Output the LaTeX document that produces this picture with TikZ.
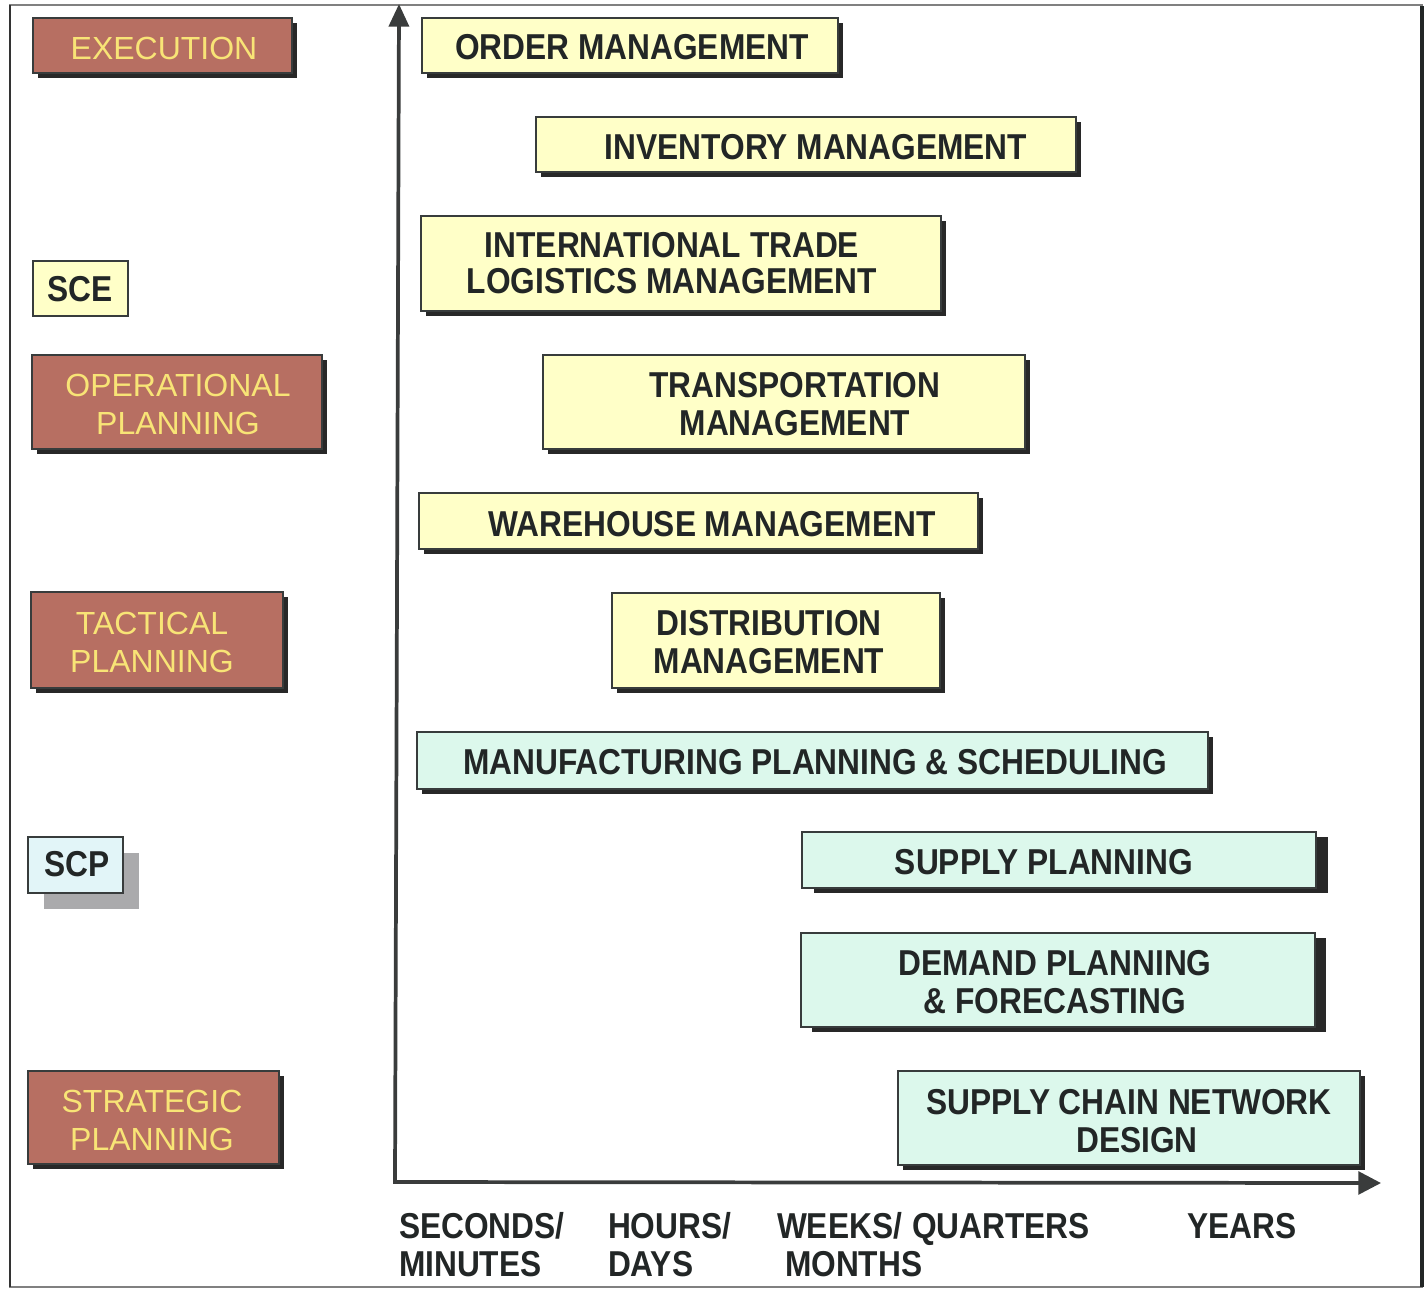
\documentclass[tikz,border=0pt]{standalone}
\usepackage{fontspec}
\setmainfont{Liberation Sans}
\newfontfamily\narrowsans[FakeStretch=0.88]{Liberation Sans}
\usetikzlibrary{arrows.meta,fit,shadows}

\definecolor{tierbrown}{RGB}{183,111,98}
\definecolor{tiergold}{RGB}{248,228,118}
\definecolor{execyellow}{RGB}{255,255,200}
\definecolor{planmint}{RGB}{220,248,236}
\definecolor{scpblue}{RGB}{226,245,248}
\definecolor{ink}{RGB}{34,38,38}
\definecolor{shade}{RGB}{40,40,40}
\definecolor{softshade}{RGB}{170,170,172}
\definecolor{axisdark}{RGB}{58,60,60}

\begin{document}
\begin{tikzpicture}[x=0.75pt,y=-0.75pt,
  every node/.style={inner sep=0pt,outer sep=0pt},
  boxline/.style={draw=ink!90,line width=1pt},
  hardshadow/.style={drop shadow={shadow xshift=#1,shadow yshift=-3.75pt,fill=shade,opacity=1}},
  tier/.style={boxline,fill=tierbrown,hardshadow=3.75pt},
  execbox/.style={boxline,fill=execyellow,hardshadow=3.75pt},
  planbox/.style={boxline,fill=planmint,hardshadow=#1},
  planbox/.default=3.75pt,
  tierlabel/.style={text=tiergold,align=center,font=\fontsize{24}{28.5}\selectfont},
  boxlabel/.style={text=ink,align=center,font=\narrowsans\bfseries\fontsize{27}{28.5}\selectfont},
  axislabel/.style={text=ink,anchor=base west,font=\narrowsans\bfseries\fontsize{27}{28.5}\selectfont},
  axis/.style={draw=axisdark,line width=2.8pt}
]
\useasboundingbox (0,0) rectangle (1428,1290);

% outer frame
\draw[draw=black!50,line width=0.9pt] (10,5) rectangle (1422,1287);
\draw[draw=black!80,line width=1.2pt] (10,5) -- (10,1287);
\draw[draw=ink,line width=3pt] (1422,6) -- (1422,1287);

% planning tiers (left column)
\node[tier,fit={(33,18)(292,73)}] (exec) {};
\node[tierlabel] (exec-t) at (164,48.5) {EXECUTION};
\node[boxline,fill=execyellow,fit={(33,261)(128,316)}] (sce) {};
\node[boxlabel] (sce-t) at (80,289) {SCE};
\node[tier,fit={(32,355)(322,449)}] (oper) {};
\node[tierlabel] (oper-t) at (178,404) {OPERATIONAL\\PLANNING};
\node[tier,fit={(31,592)(283,688)}] (tact) {};
\node[tierlabel] (tact-t) at (152,642) {TACTICAL\\PLANNING};
\node[boxline,fill=scpblue,fit={(28,837)(123,893)},
  drop shadow={shadow xshift=12pt,shadow yshift=-12pt,fill=softshade,opacity=1}] (scp) {};
\node[boxlabel] (scp-t) at (77,864) {SCP};
\node[tier,fit={(28,1071)(279,1164)}] (strat) {};
\node[tierlabel] (strat-t) at (152,1120) {STRATEGIC\\PLANNING};

% axes
\coordinate (origin) at (395,1182);
\coordinate (ytip) at (399,4);
\coordinate (xtip) at (1381,1183);
\draw[axis,-{Triangle[length=17pt,width=15pt]}] (origin) -- (ytip);
\draw[axis,-{Triangle[length=17pt,width=17pt]}] ([xshift=-1.5pt]origin) -- (xtip);

% execution systems
\node[execbox,fit={(422,18)(838,73)}] (order) {};
\node[boxlabel] (order-t) at (632,47) {ORDER MANAGEMENT};
\node[execbox,fit={(536,117)(1076,172)}] (inv) {};
\node[boxlabel] (inv-t) at (816,147) {INVENTORY MANAGEMENT};
\node[execbox,fit={(421,216)(941,311)}] (itl) {};
\node[boxlabel,font=\narrowsans\bfseries\fontsize{27}{26.5}\selectfont] (itl-t) at (672,263) {INTERNATIONAL TRADE\\LOGISTICS MANAGEMENT};
\node[execbox,fit={(543,355)(1025,449)}] (trans) {};
\node[boxlabel] (trans-t) at (795,404) {TRANSPORTATION\\MANAGEMENT};
\node[execbox,fit={(419,493)(978,549)}] (wh) {};
\node[boxlabel] (wh-t) at (712,524) {WAREHOUSE MANAGEMENT};
\node[execbox,fit={(612,593)(940,688)}] (dist) {};
\node[boxlabel] (dist-t) at (769,642) {DISTRIBUTION\\MANAGEMENT};

% planning systems
\node[planbox,fit={(417,732)(1208,789)}] (mfg) {};
\node[boxlabel] (mfg-t) at (815,762) {MANUFACTURING PLANNING \& SCHEDULING};
\node[planbox=9pt,fit={(802,832)(1316,888)}] (supply) {};
\node[boxlabel] (supply-t) at (1044,862) {SUPPLY PLANNING};
\node[planbox=8pt,fit={(801,933)(1315,1027)}] (demand) {};
\node[boxlabel] (demand-t) at (1055,982) {DEMAND PLANNING\\\& FORECASTING};
\node[planbox,fit={(898,1071)(1360,1165)}] (scnd) {};
\node[boxlabel] (scnd-t) at (1129,1121) {SUPPLY CHAIN NETWORK\\\hspace*{12pt}DESIGN};

% time horizon labels
\node[axislabel] (sec) at (399,1238) {SECONDS/};
\node[axislabel] (min) at (399,1276) {MINUTES};
\node[axislabel] (hrs) at (608,1238) {HOURS/};
\node[axislabel] (days) at (608,1276) {DAYS};
\node[axislabel] (wks) at (777,1238) {WEEKS/};
\node[axislabel] (qtr) at (912,1238) {QUARTERS};
\node[axislabel] (mon) at (785,1276) {MONTHS};
\node[axislabel] (yrs) at (1187,1238) {YEARS};
\end{tikzpicture}
\end{document}
